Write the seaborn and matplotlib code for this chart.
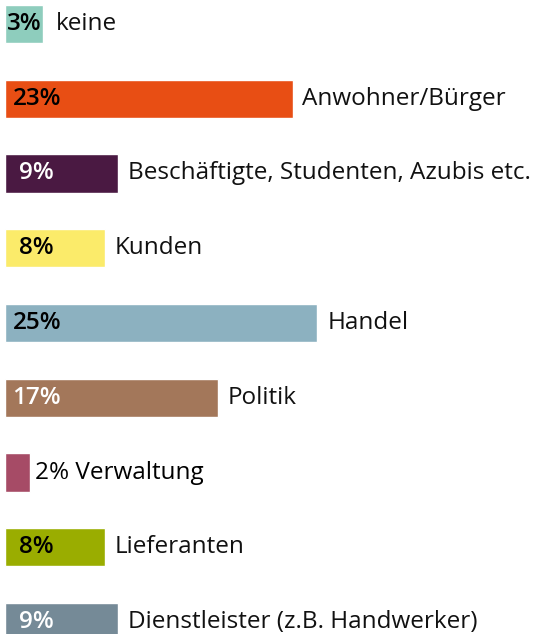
import matplotlib
matplotlib.use("Agg")
import matplotlib.pyplot as plt
import seaborn as sns
import pandas as pd

# data
categories = ["keine", "Anwohner/Bürger", "Beschäftigte, Studenten, Azubis etc.", "Kunden",
              "Handel", "Politik", "Verwaltung", "Lieferanten", "Dienstleister (z.B. Handwerker)"]
values = [3, 23, 9, 8, 25, 17, 2, 8, 9]
colors = ["#8ecdbd", "#e84e14", "#4a1942", "#fbeb6a", "#8cb1c0",
          "#a3775a", "#a64b66", "#9aad00", "#758a97"]
label_colors = ["black", "black", "white", "black", "black", "white", "black", "black", "white"]

df = pd.DataFrame({"cat": categories, "val": values})

sns.set_style("white")
plt.rcParams["font.family"] = ["Open Sans", "DejaVu Sans"]

fig = plt.figure(figsize=(5.34, 6.34), dpi=100)
ax = fig.add_axes([0, 0, 1, 1])
sns.barplot(data=df, y="cat", x="val", hue="cat", palette=colors, legend=False,
            orient="h", width=0.51, saturation=1, ax=ax)

fs = 17.5
for i, (cat, v) in enumerate(zip(categories, values)):
    if v < 3:
        # label outside the bar together with the category
        ax.annotate(f"{v}% {cat}", (v, i), xytext=(3, 0), textcoords="offset points",
                    ha="left", va="center", fontsize=fs, color="black")
        continue
    ax.text(min(v / 2, 2.5), i, f"{v}%", ha="center", va="center", fontsize=fs,
            color=label_colors[i], fontweight="semibold")
    ax.annotate(cat, (v, i), xytext=(7 if v > 3 else 9, 0), textcoords="offset points",
                ha="left", va="center", fontsize=fs, color="#111111")

ax.set_xlim(-0.44, 42.35)
ax.set_ylim(8.16, -0.32)
ax.axis("off")

fig.savefig("out.png", dpi=100)
